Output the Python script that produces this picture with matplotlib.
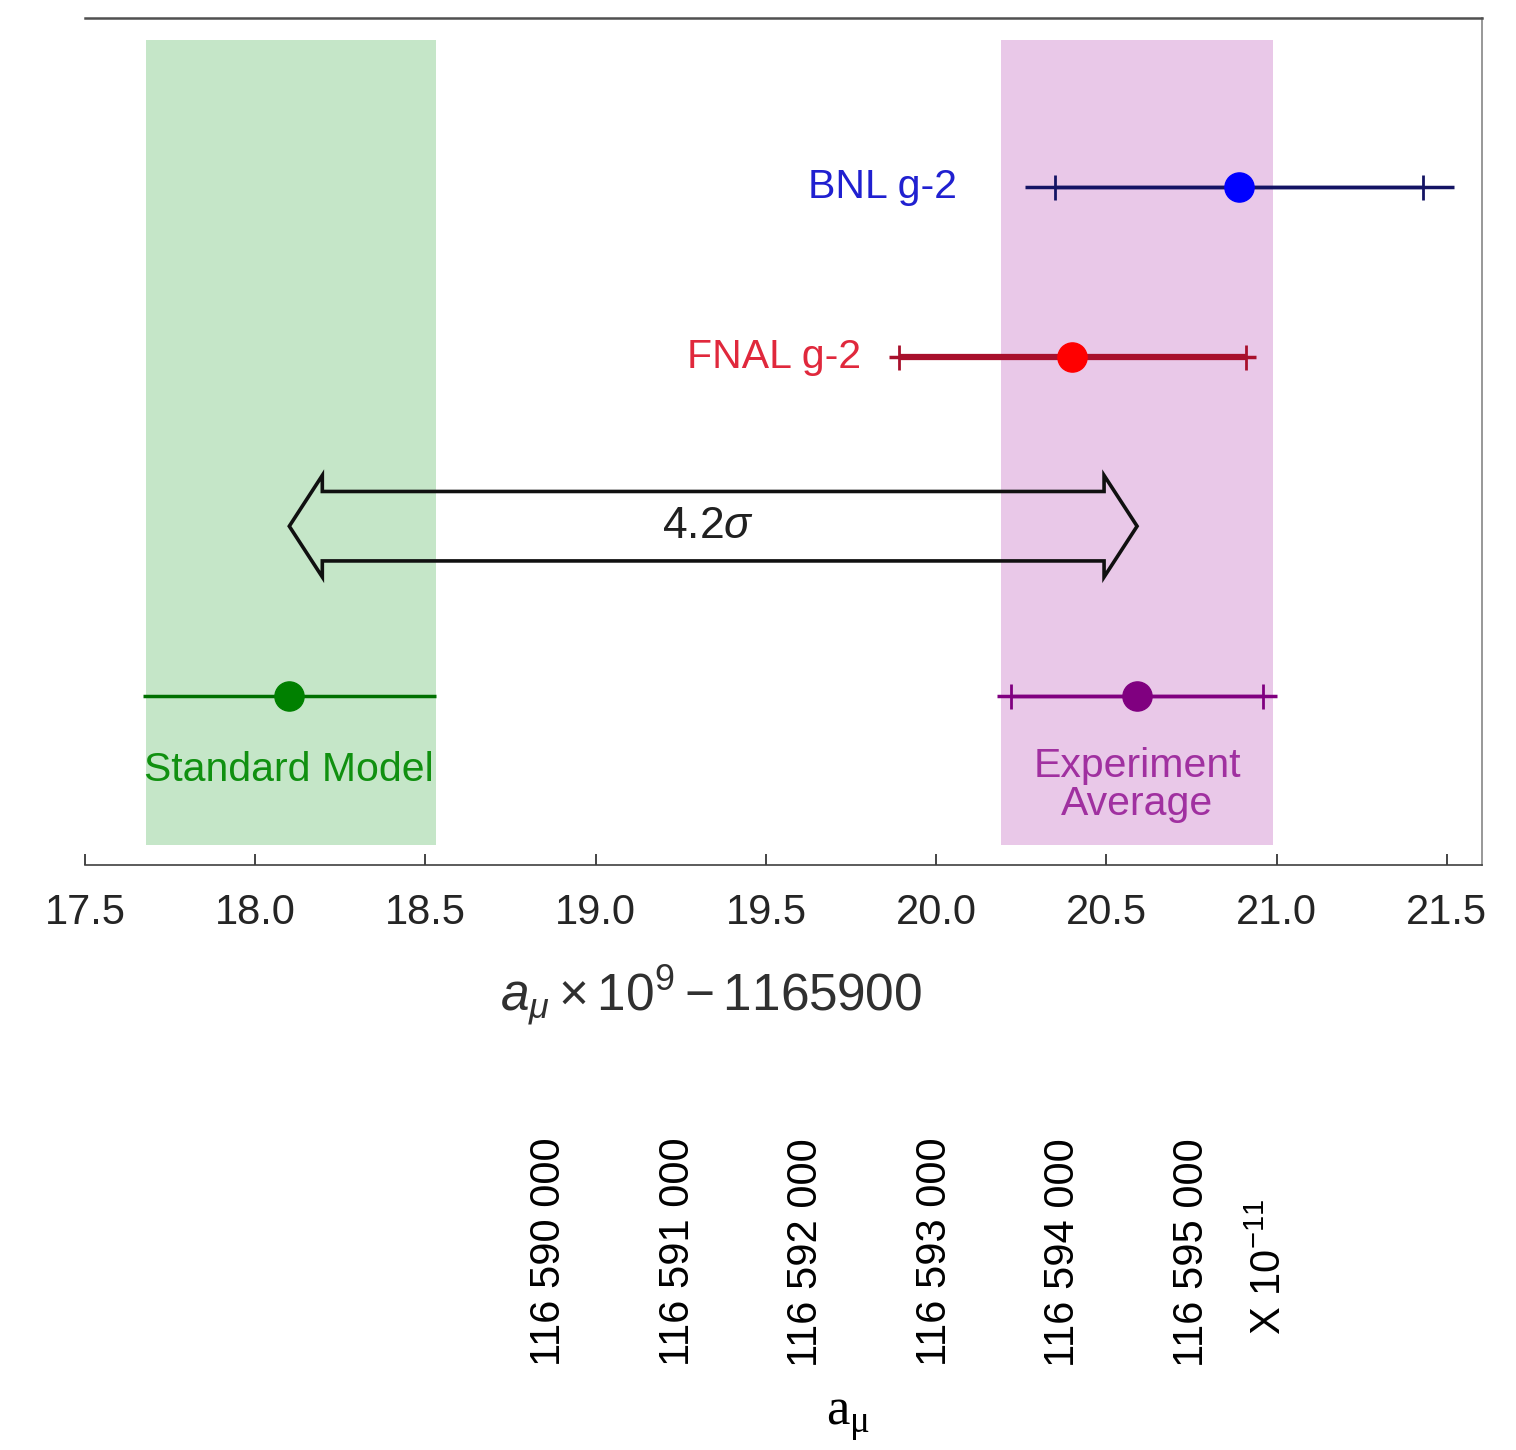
import numpy as np
import matplotlib.pyplot as plt
from matplotlib.patches import Polygon

plt.rcParams['font.family'] = ['Liberation Sans', 'DejaVu Sans']
plt.rcParams['mathtext.fontset'] = 'custom'
plt.rcParams['mathtext.rm'] = 'Liberation Sans'
plt.rcParams['mathtext.it'] = 'Liberation Sans:italic'

# measurements, a_mu x 1e9 - 1165900
names = ['BNL g-2', 'FNAL g-2', 'Experiment\nAverage', 'Standard Model']
centers = [20.89, 20.40, 20.59, 18.10]
stat_err = [0.54, 0.51, 0.37, None]
total_err = [0.63, 0.54, 0.41, 0.43]
rows = [4, 3, 1, 1]

# shaded bands (SM and experimental average)
sm_band = (17.68, 18.53)
exp_band = (20.19, 20.99)

sigma_text = '4.2$\\sigma$'

# lower scale, units of 1e-11
amu_ticks = [116590000, 116591000, 116592000, 116593000, 116594000, 116595000]

dot_colors = ['#0000ff', '#ff0000', '#800080', '#008000']
line_colors = ['#141464', '#a8102c', '#800080', '#007000']
text_colors = ['#2020d0', '#e0283c', '#a030a0', '#109010']

fig = plt.figure(figsize=(15.16, 14.5), dpi=100)
ax = fig.add_axes([85/1516, 1 - 865/1450, 1397/1516, 847/1450])

ax.axvspan(*sm_band, ymin=0.12/5, ymax=4.87/5, color='#c5e6c8', lw=0, zorder=0)
ax.axvspan(*exp_band, ymin=0.12/5, ymax=4.87/5, color='#e9c8e8', lw=0, zorder=0)

for i in range(4):
    c, y = centers[i], rows[i]
    ax.plot([c - total_err[i], c + total_err[i]], [y, y], color=line_colors[i],
            lw=2.5, solid_capstyle='butt', zorder=2)
    if stat_err[i] is not None:
        lw = 4.5 if i == 1 else 2.5
        ax.errorbar(c, y, xerr=stat_err[i], fmt='none', ecolor=line_colors[i],
                    elinewidth=lw, capsize=9, capthick=2, zorder=2)
    ax.plot(c, y, 'o', ms=21, color=dot_colors[i], mec=dot_colors[i], zorder=3)

# experiment labels
ax.text(centers[0] - total_err[0] - 0.2, rows[0], names[0], color=text_colors[0],
        fontsize=29.5, ha='right', va='center')
ax.text(centers[1] - total_err[1] - 0.08, rows[1], names[1], color=text_colors[1],
        fontsize=29.5, ha='right', va='center')
ax.text(centers[2], 0.47, names[2], color=text_colors[2], fontsize=29.5,
        ha='center', va='center', linespacing=1.0)
ax.text(centers[3], 0.56, names[3], color=text_colors[3], fontsize=29.5,
        ha='center', va='center')

# hollow double arrow between SM and experiment
x0, x1, ya = centers[3], centers[2], 2.0
hl, hw, bw = 0.097, 0.30, 0.205
verts = [(x0, ya), (x0 + hl, ya + hw), (x0 + hl, ya + bw), (x1 - hl, ya + bw),
         (x1 - hl, ya + hw), (x1, ya), (x1 - hl, ya - hw), (x1 - hl, ya - bw),
         (x0 + hl, ya - bw), (x0 + hl, ya - hw)]
ax.add_patch(Polygon(verts, closed=True, fill=False, ec='#101010', lw=2.6, zorder=4))
ax.text(19.33, ya, sigma_text, fontsize=32, ha='center', va='center', color='#202020')

ax.set_xlim(17.5, 21.603)
ax.set_ylim(0, 5)
ax.set_yticks([])
ax.set_xticks(np.arange(17.5, 21.51, 0.5))
ax.set_xticklabels(['%.1f' % v for v in np.arange(17.5, 21.51, 0.5)])
ax.tick_params(axis='x', direction='in', length=8, width=1.2, colors='#252525',
               labelsize=30, pad=20)
ax.spines['left'].set_visible(False)
ax.spines['top'].set_color('#505050')
ax.spines['top'].set_linewidth(1.8)
ax.spines['right'].set_color('#909090')
ax.spines['right'].set_linewidth(1.3)
ax.spines['bottom'].set_color('#404040')
ax.spines['bottom'].set_linewidth(1.2)
ax.set_xlabel(r'$a_{\mu}\times10^{9}-1165900$', fontsize=37, color='#303030')
ax.xaxis.set_label_coords(0.448, -0.117)

# lower scale in absolute units
ax2 = fig.add_axes([549/1516, 1 - 1135/1450, 643/1516, 0.0005])
ax2.set_xlim(amu_ticks[0], amu_ticks[-1])
ax2.set_xticks(amu_ticks)
ax2.set_xticklabels(['{:,}'.format(v).replace(',', ' ') for v in amu_ticks],
                    rotation=90, fontsize=30)
ax2.tick_params(axis='x', length=0, pad=2)
ax2.set_yticks([])
for s in ax2.spines.values():
    s.set_visible(False)
ax2.set_xlabel(r'a$_{\mathregular{\mu}}$', fontsize=38, family='Liberation Serif')
ax2.xaxis.set_label_coords(848/1516, 1 - 1443/1450, transform=fig.transFigure)
ax2.xaxis.label.set_va('bottom')
fig.text(1270/1516, 1 - 1335/1450, r'X 10$^{-11}$', rotation=90, fontsize=30,
         ha='center', va='bottom')

fig.savefig('out.png', dpi=100)
